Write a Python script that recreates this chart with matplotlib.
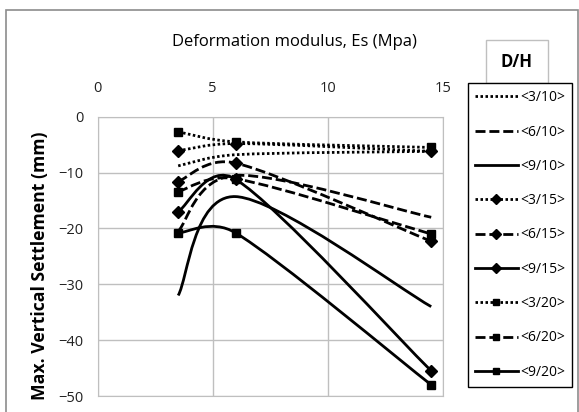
import numpy as np
import matplotlib
matplotlib.use("Agg")
import matplotlib.pyplot as plt
from matplotlib.path import Path
from matplotlib.patches import PathPatch, Rectangle
from matplotlib.lines import Line2D

plt.rcParams['font.family'] = ['Open Sans', 'DejaVu Sans']

# deformation modulus Es (MPa)
es = [3.5, 6, 14.5]

# max vertical settlement (mm) for each D/H
s_3_10 = [-8.8, -6.8, -6.2]
s_6_10 = [-20.5, -10.5, -18]
s_9_10 = [-32, -14.3, -34]
s_3_15 = [-6.1, -4.8, -6.2]
s_6_15 = [-11.6, -8.3, -22.3]
s_9_15 = [-17, -11.2, -45.5]
s_3_20 = [-2.7, -4.5, -5.5]
s_6_20 = [-13.4, -11.1, -21]
s_9_20 = [-20.8, -20.8, -48]

labels = ['<3/10>', '<6/10>', '<9/10>', '<3/15>', '<6/15>', '<9/15>',
          '<3/20>', '<6/20>', '<9/20>']

dotted = (0, (0.9, 0.9))
dashed = (0, (3.6, 1.4))

series = [
    (s_3_10, dotted, None), (s_6_10, dashed, None), (s_9_10, '-', None),
    (s_3_15, dotted, 'D'), (s_6_15, dashed, 'D'), (s_9_15, '-', 'D'),
    (s_3_20, dotted, 's'), (s_6_20, dashed, 's'), (s_9_20, '-', 's'),
]


def smooth_path(ax, xs, ys):
    # excel style smoothed line: bezier segments, handle length capped
    # at half the segment (measured on screen)
    pts = np.column_stack([xs, ys]).astype(float)
    scr = ax.transData.transform(pts)
    n = len(pts)

    def ctrl(a, b, seg_a, seg_b):
        d = np.hypot(*(scr[b] - scr[a]))
        seg = np.hypot(*(scr[seg_b] - scr[seg_a]))
        f = 1 / 6
        if d > 0 and d / 6 > seg / 2:
            f = seg / 2 / d
        return (pts[b] - pts[a]) * f

    verts = [pts[0]]
    codes = [Path.MOVETO]
    for i in range(n - 1):
        ip = max(i - 1, 0)
        inx = min(i + 2, n - 1)
        c1 = pts[i] + ctrl(ip, i + 1, i, i + 1)
        c2 = pts[i + 1] - ctrl(i, inx, i, i + 1)
        verts += [c1, c2, pts[i + 1]]
        codes += [Path.CURVE4] * 3
    return Path(verts, codes)


fig = plt.figure(figsize=(5.79, 4.12), dpi=100)
ax = fig.add_axes([0.1687, 0.0388, 0.5959, 0.6779])
ax.set_xlim(0, 15)
ax.set_ylim(-50, 0)

handles = []
for vals, ls, mk in series:
    ax.add_patch(PathPatch(smooth_path(ax, es, vals), fill=False, edgecolor='black',
                           lw=2, linestyle=ls, zorder=2))
    ms = 6 if mk == 'D' else 5.5
    if mk:
        ax.plot(es, vals, linestyle='none', marker=mk, ms=ms, color='black', zorder=3)
    handles.append(Line2D([], [], color='black', lw=2, linestyle=ls, marker=mk,
                          ms=ms - 1))

ax.set_xticks([0, 5, 10, 15])
ax.set_yticks([0, -10, -20, -30, -40, -50])
ax.xaxis.tick_top()
ax.tick_params(axis='x', length=0, pad=15, labelsize=10.5, labelcolor='#222222')
ax.tick_params(axis='y', length=0, pad=10, labelsize=10.5, labelcolor='#222222')
ax.grid(True, color='#bfbfbf', lw=1)
ax.set_axisbelow(True)
for sp in ax.spines.values():
    sp.set_color('#bfbfbf')

fig.text(294 / 579, 1 - 42 / 412, 'Deformation modulus, Es (Mpa)', ha='center', va='center',
         fontsize=12)
fig.text(40 / 579, 1 - 266 / 412, 'Max. Vertical Settlement (mm)', rotation=90,
         ha='center', va='center', fontsize=12.7, fontweight='bold')

leg = fig.legend(handles, labels, loc='upper left', bbox_to_anchor=(467.7 / 579, 1 - 83.3 / 412),
                 borderaxespad=0, fontsize=10, handlelength=3.1, handletextpad=0.15,
                 labelspacing=1.39, borderpad=0.5, numpoints=1, fancybox=False,
                 edgecolor='black', framealpha=1)
leg.get_frame().set_linewidth(1)

# D/H header box
fig.patches.append(Rectangle((486 / 579, 1 - 82.7 / 412), 62.3 / 579, 42.7 / 412,
                             transform=fig.transFigure, fill=False, ec='#bfbfbf', lw=1))
fig.text(517 / 579, 1 - 62 / 412, 'D/H', ha='center', va='center', fontsize=12,
         fontweight='bold')

# outer chart border
fig.patches.append(Rectangle((6 / 579, -0.02), 572 / 579, 402 / 412 + 0.02,
                             transform=fig.transFigure, fill=False, ec='#8c8c8c', lw=1.2))

fig.savefig('out.png', dpi=100)
